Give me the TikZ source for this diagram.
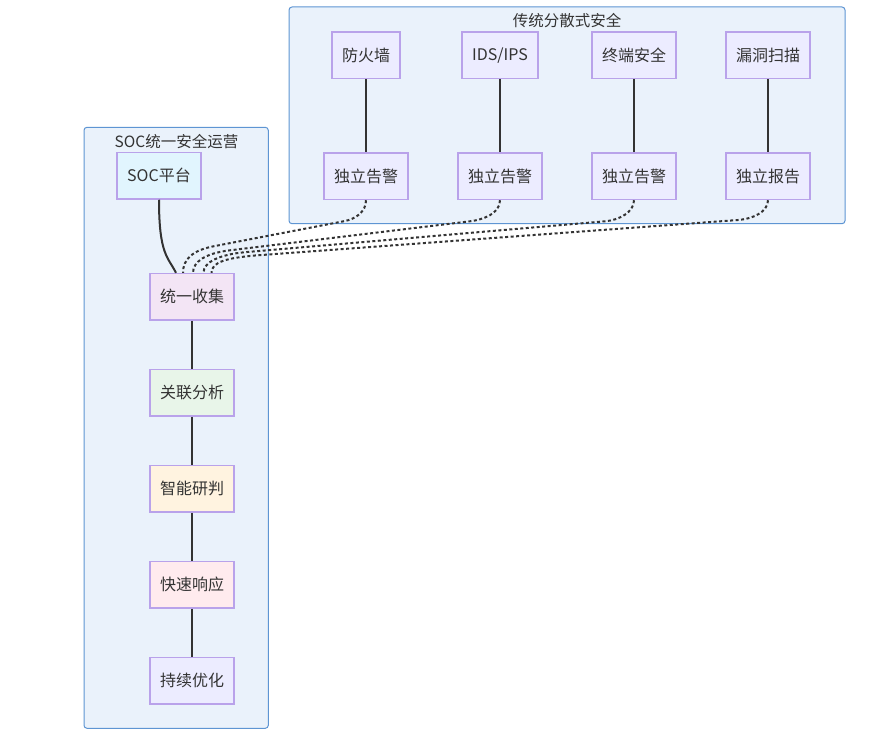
\documentclass[tikz,border=0pt]{standalone}
\usepackage{fontspec}
\setmainfont{Noto Sans CJK SC}
\definecolor{clusterfill}{HTML}{EAF2FB}
\definecolor{clusterline}{HTML}{5E95D3}
\definecolor{nodefill}{HTML}{ECECFF}
\definecolor{nodeline}{HTML}{B9A2EA}
\definecolor{edgegray}{HTML}{333333}
\definecolor{textgray}{HTML}{333333}
\definecolor{socfill}{HTML}{E1F5FE}
\definecolor{collectfill}{HTML}{F3E5F5}
\definecolor{correlatefill}{HTML}{E8F5E9}
\definecolor{judgefill}{HTML}{FFF3E0}
\definecolor{respondfill}{HTML}{FFEBEE}
\begin{document}
\begin{tikzpicture}[x=1pt,y=-1pt,
        box/.style={draw=nodeline, line width=1.4pt, fill=nodefill, inner xsep=10pt, minimum height=46.5pt, text=textgray, font=\fontsize{16}{19}\selectfont},
        cluster/.style={draw=clusterline, line width=1pt, fill=clusterfill, rounded corners=3pt},
        title/.style={text=textgray, font=\fontsize{15.5}{18}\selectfont},
        link/.style={draw=edgegray, line width=2pt},
        dotlink/.style={draw=edgegray, line width=2pt, dash pattern=on 3pt off 2.5pt}]
        \useasboundingbox (0,0) rectangle (870,741);
        % clusters
        \draw [cluster] (289,7) rectangle (845,223.7);
        \draw [cluster] (84,127.3) rectangle (268.3,728.3);
        \node [title] (oldtitle) at (567,20.5) {传统分散式安全};
        \node [title] (soctitle) at (176.5,141.5) {SOC统一安全运营};
        % traditional tools
        \node [box] (fw) at (366,55.3) {防火墙};
        \node [box] (ids) at (500,55.3) {IDS/IPS};
        \node [box] (edr) at (634,55.3) {终端安全};
        \node [box] (vuln) at (768,55.3) {漏洞扫描};
        \node [box] (fwalert) at (366,176.3) {独立告警};
        \node [box] (idsalert) at (500,176.3) {独立告警};
        \node [box] (edralert) at (634,176.3) {独立告警};
        \node [box] (vulnreport) at (768,176.3) {独立报告};
        % soc chain
        \node [box, fill=socfill] (soc) at (159,175.8) {SOC平台};
        \node [box, fill=collectfill] (collect) at (192,296.8) {统一收集};
        \node [box, fill=correlatefill] (correlate) at (192,392.8) {关联分析};
        \node [box, fill=judgefill] (judge) at (192,488.8) {智能研判};
        \node [box, fill=respondfill] (respond) at (192,584.8) {快速响应};
        \node [box] (optimize) at (192,680.8) {持续优化};
        % links
        \draw [link] (fw) -- (fwalert);
        \draw [link] (ids) -- (idsalert);
        \draw [link] (edr) -- (edralert);
        \draw [link] (vuln) -- (vulnreport);
        \draw [link] (soc.south) .. controls +(0,55) and +(-8,-16) .. ([xshift=-16pt]collect.north);
        \draw [link] (collect) -- (correlate);
        \draw [link] (correlate) -- (judge);
        \draw [link] (judge) -- (respond);
        \draw [link] (respond) -- (optimize);
        \draw [dotlink] (fwalert.south) .. controls +(0,12) and +(10,-2) .. (345,221) -- (215,246) .. controls +(-22,4) and +(0,-14) .. ([xshift=-9pt]collect.north);
        \draw [dotlink] (idsalert.south) .. controls +(0,14) and +(12,-1.5) .. (470,221.3) -- (230,250.3) .. controls +(-25,3) and +(0,-11) .. ([xshift=1pt]collect.north);
        \draw [dotlink] (edralert.south) .. controls +(0,12) and +(14,-1.2) .. (605,221.3) -- (245,252.2) .. controls +(-25,2.3) and +(0,-11) .. ([xshift=11.5pt]collect.north);
        \draw [dotlink] (vulnreport.south) .. controls +(0,12) and +(14,-1) .. (738,220) -- (255,255.5) .. controls +(-28,2.5) and +(0,-11) .. ([xshift=19.5pt]collect.north);
\end{tikzpicture}
\end{document}
